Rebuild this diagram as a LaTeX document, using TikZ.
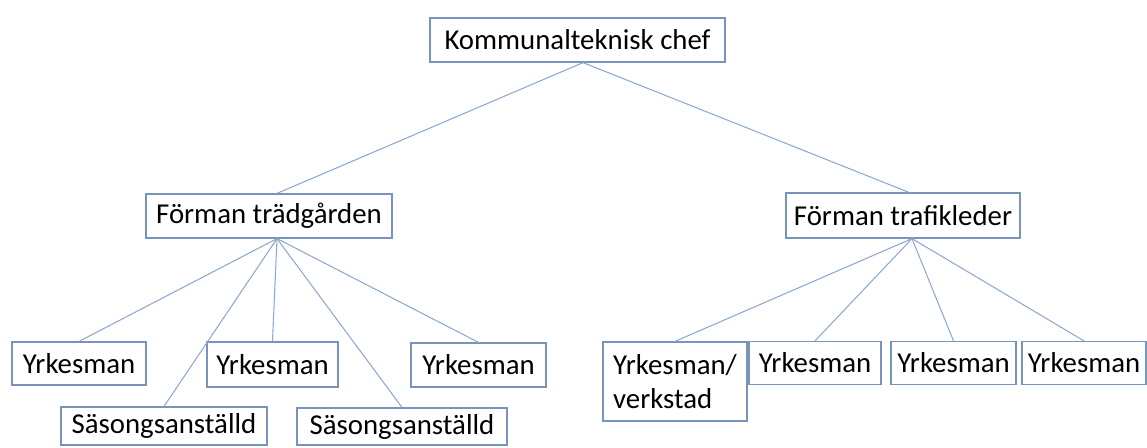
\documentclass[tikz,border=0pt]{standalone}
\usepackage{fontspec}
\setmainfont{Carlito}

\definecolor{boxblue}{RGB}{120,148,188}
\definecolor{lineblue}{RGB}{140,168,208}
\newcommand{\px}{0.02cm}

\tikzset{%
  every box/.style={
    rectangle,
    draw=boxblue,
    line width=0.7pt,
    inner sep=0pt,
    text=black,
    font=\fontsize{16.4pt}{19.5pt}\selectfont
  },
  box wide/.style={
    align=left
  },
  every link/.style={
    draw=lineblue,
    line width=0.6pt
  },
}

\begin{document}
\begin{tikzpicture}[x=\px, y=-\px]

    \useasboundingbox (0,0) rectangle (1147,447);

    \node [every box, minimum width=295*\px, minimum height=44*\px] (chef) at (577.5,40) {Kommunalteknisk chef};

    \node [every box, minimum width=246*\px, minimum height=44*\px] (tradg) at (269,216) {Förman trädgården};
    \node [every box, minimum width=234*\px, minimum height=45*\px] (trafik) at (903,215.5) {Förman trafikleder};

    % under trädgården
    \foreach \n/\x/\y/\w/\h/\t in {
        tradg-1/79/363.5/134/43/Yrkesman,
        tradg-2/272.5/364.5/131/45/Yrkesman,
        tradg-3/478.5/365/135/44/Yrkesman,
        tradg-4/164/426/206/38/Säsongsanställd,
        tradg-5/402/426.5/210/37/Säsongsanställd}
      \node [every box, minimum width=\w*\px, minimum height=\h*\px] (\n) at (\x,\y) {\t};

    % under trafikleder
    \node [every box, box wide, minimum width=144*\px, minimum height=79*\px] (trafik-1) at (675,381.5) {Yrkesman/\\verkstad};
    \foreach \n/\x/\w in {2/815/132, 3/953.5/125, 4/1084/124}
      \node [every box, minimum width=\w*\px, minimum height=43*\px] (trafik-\n) at (\x,363) {Yrkesman};

    % connector points, a bit right of centre
    \coordinate (chef-s) at ([xshift=5.5*\px]chef.south);
    \coordinate (tradg-n) at ([xshift=8*\px]tradg.north);
    \coordinate (tradg-s) at ([xshift=8*\px]tradg.south);
    \coordinate (trafik-n) at ([xshift=6*\px]trafik.north);
    \coordinate (trafik-s) at ([xshift=9*\px]trafik.south);

    \foreach \j in {tradg, trafik}
      \draw [every link] (chef-s) -- (\j-n);

    \foreach \i in {1,...,5}
      \draw [every link] (tradg-s) -- (tradg-\i.north);

    \foreach \i in {1,...,4}
      \draw [every link] (trafik-s) -- (trafik-\i.north);

\end{tikzpicture}
\end{document}
